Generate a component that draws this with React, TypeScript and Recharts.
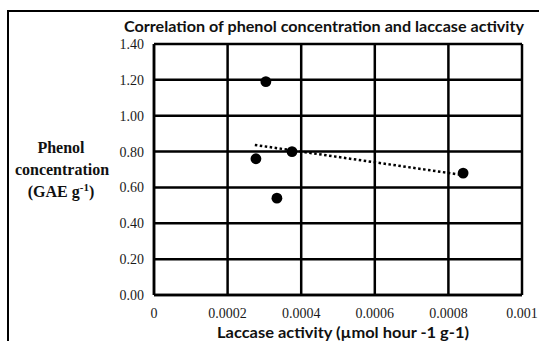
import React from "react";
import { ScatterChart, Scatter, XAxis, YAxis, CartesianGrid } from "recharts";

// Observations: laccase activity (µmol hour-1 g-1) vs phenol concentration (GAE g-1)
const laccaseActivity = [0.000304, 0.000277, 0.000375, 0.000334, 0.00084];
const phenolConcentration = [1.19, 0.76, 0.8, 0.54, 0.68];

// Linear trendline end points
const trendX = [0.000274, 0.00084];
const trendY = [0.837, 0.669];

const xTicks = [0, 0.0002, 0.0004, 0.0006, 0.0008, 0.001];
const xTickLabels = ["0", "0.0002", "0.0004", "0.0006", "0.0008", "0.001"];
const yTicks = [0, 0.2, 0.4, 0.6, 0.8, 1.0, 1.2, 1.4];
const yTickLabels = ["0.00", "0.20", "0.40", "0.60", "0.80", "1.00", "1.20", "1.40"];

const title = "Correlation of phenol concentration and laccase activity";
const xTitle = "Laccase activity (µmol hour -1 g-1)";
const yTitleLines = ["Phenol", "concentration"];

const points = laccaseActivity.map((x, i) => ({ x, y: phenolConcentration[i] }));
const trend = trendX.map((x, i) => ({ x, y: trendY[i] }));

const tickFont = { fontFamily: "'Liberation Serif', 'Times New Roman', serif", fontSize: 14, fill: "#1a1a1a" };

const Dot = (props: any) => <circle cx={props.cx} cy={props.cy} r={5.4} fill="#000" />;
const NoShape = () => <g />;

export default function App() {
  return (
    <div style={{ position: "absolute", left: 0, top: 0, width: 539, height: 341, overflow: "hidden", background: "#fff" }}>
      <div
        style={{
          position: "absolute",
          left: 7,
          top: 10,
          width: 600,
          height: 400,
          borderLeft: "2px solid #000",
          borderTop: "2px solid #000",
          boxSizing: "border-box",
        }}
      />
      <div style={{ position: "absolute", left: 0, top: 0 }}>
        <ScatterChart width={539} height={341} margin={{ top: 44, right: 17, bottom: 0, left: 0 }}>
          <CartesianGrid stroke="#000" strokeWidth={2.5} strokeOpacity={1} />
          <XAxis
            type="number"
            dataKey="x"
            domain={[0, 0.001]}
            ticks={xTicks}
            tickFormatter={(v: number) => xTickLabels[xTicks.indexOf(v)] ?? String(v)}
            height={46}
            tickLine={false}
            tickSize={0}
            tickMargin={13}
            axisLine={{ stroke: "#000", strokeWidth: 2.5 }}
            tick={tickFont}
            interval={0}
            allowDataOverflow
          />
          <YAxis
            type="number"
            dataKey="y"
            domain={[0, 1.4]}
            ticks={yTicks}
            tickFormatter={(v: number) => yTickLabels[yTicks.indexOf(v)] ?? String(v)}
            width={154}
            tickLine={false}
            tickSize={0}
            tickMargin={10}
            axisLine={{ stroke: "#000", strokeWidth: 2.5 }}
            tick={tickFont}
            interval={0}
            allowDataOverflow
          />
          <Scatter
            data={trend}
            line={{ stroke: "#000", strokeWidth: 2.5, strokeDasharray: "2.5 2.5" }}
            shape={NoShape}
            isAnimationActive={false}
          />
          <Scatter data={points} shape={Dot} fill="#000" isAnimationActive={false} />
        </ScatterChart>
      </div>
      <svg width={539} height={341} style={{ position: "absolute", left: 0, top: 0, pointerEvents: "none" }}>
        <text
          x={124}
          y={32}
          textLength={400}
          lengthAdjust="spacingAndGlyphs"
          style={{ fontFamily: "Lato, 'Open Sans', sans-serif", fontWeight: 700, fontSize: 16 }}
          fill="#111"
        >
          {title}
        </text>
        <text
          x={217}
          y={338}
          textLength={252}
          lengthAdjust="spacingAndGlyphs"
          style={{ fontFamily: "Lato, 'Open Sans', sans-serif", fontWeight: 700, fontSize: 16 }}
          fill="#111"
        >
          {xTitle}
        </text>
        <g style={{ fontFamily: "'Liberation Serif', 'Times New Roman', serif", fontWeight: 700, fontSize: 16 }} fill="#111">
          <text x={61} y={153} textAnchor="middle">{yTitleLines[0]}</text>
          <text x={62} y={175} textAnchor="middle">{yTitleLines[1]}</text>
          <text x={61} y={197} textAnchor="middle">
            (GAE g<tspan dy={-6} fontSize={11}>-1</tspan>
            <tspan dy={6}>)</tspan>
          </text>
        </g>
      </svg>
    </div>
  );
}
